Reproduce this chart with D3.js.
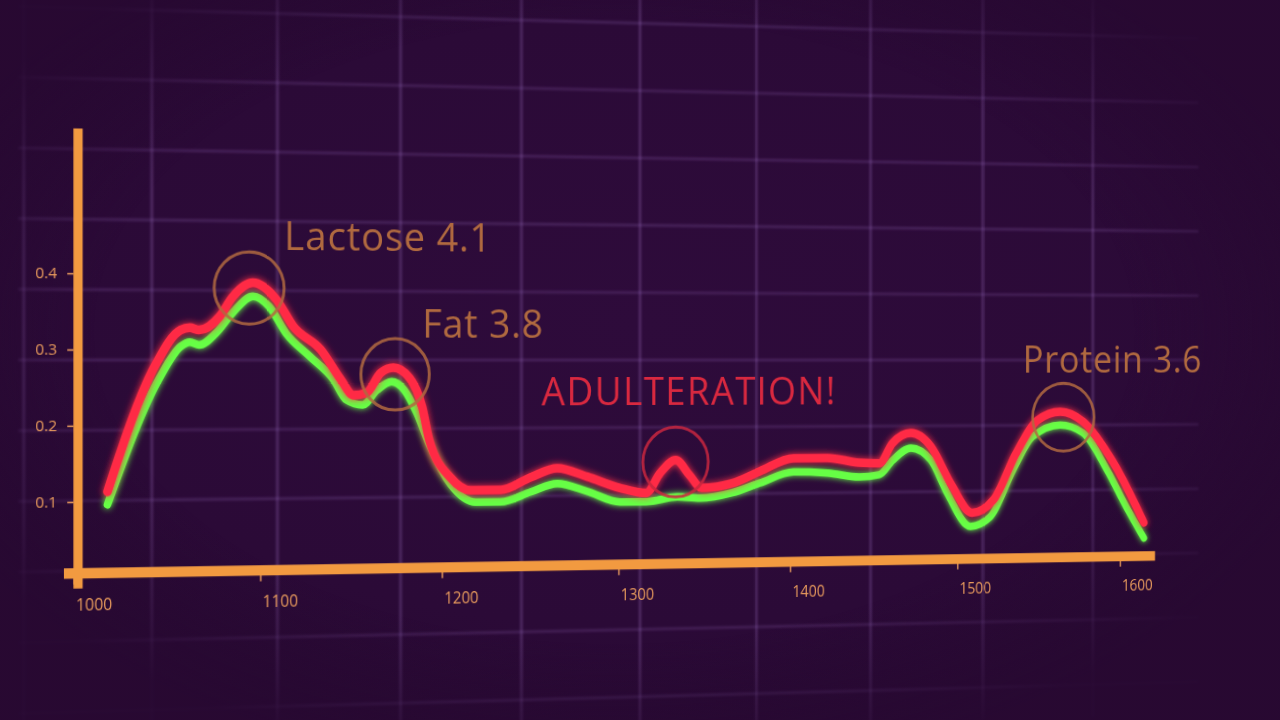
<!DOCTYPE html>
<html>
<head>
<meta charset="utf-8">
<title>Milk spectrum</title>
<script src="https://cdn.jsdelivr.net/npm/d3@7"></script>
<style>
  html, body { margin: 0; padding: 0; background: #2a0935; overflow: hidden; }
  #stage { position: relative; width: 1280px; height: 720px; overflow: hidden;
           background: radial-gradient(ellipse 75% 70% at 50% 45%, #2e0b3b 0%, #2b0a37 60%, #25082f 100%); }
  .layer { position: absolute; left: 0; top: 0; width: 1280px; height: 720px;
           transform-origin: 640px 361px; transform: perspective(4550px) rotateY(20deg); }
  .layer svg { overflow: visible; display: block; }
  #vignette { position: absolute; left: 0; top: 0; width: 1280px; height: 720px;
              background: radial-gradient(ellipse 58% 62% at 48% 46%, rgba(40,9,50,0) 70%, rgba(40,9,50,0.95) 100%); }
  text { font-family: "Open Sans", "Noto Sans", sans-serif; }
</style>
</head>
<body>
<div id="stage">
  <div class="layer" id="gridLayer"></div>
  <div id="vignette"></div>
  <div class="layer" id="chartLayer"></div>
</div>
<script>
// green trace (reference milk), [wavenumber, absorbance]
var referenceSpectrum = [
  [1018,0.096],[1046,0.264],[1057,0.304],[1062,0.310],[1067,0.306],[1076,0.322],
  [1085,0.349],[1096,0.371],[1105,0.357],[1114,0.322],[1127,0.291],[1140,0.260],
  [1147,0.233],[1156,0.226],[1164,0.246],[1172,0.257],[1179,0.246],[1186,0.215],
  [1193,0.172],[1205,0.118],[1219,0.094],[1233,0.094],[1250,0.107],[1265,0.118],
  [1282,0.107],[1301,0.092],[1316,0.092],[1334,0.098],[1347,0.096],[1366,0.103],
  [1382,0.116],[1402,0.131],[1422,0.129],[1441,0.123],[1453,0.126],[1461,0.146],
  [1472,0.163],[1484,0.146],[1494,0.099],[1508,0.052],[1520,0.065],[1534,0.131],
  [1546,0.178],[1563,0.194],[1577,0.183],[1592,0.130],[1604,0.077],[1615,0.032]
];

// red trace (tested sample)
var sampleSpectrum = [
  [1018,0.113],[1044,0.282],[1057,0.326],[1062,0.329],[1067,0.326],[1078,0.344],
  [1085,0.370],[1096,0.389],[1109,0.366],[1118,0.331],[1133,0.300],[1144,0.260],
  [1151,0.239],[1158,0.242],[1166,0.269],[1173,0.276],[1182,0.262],[1189,0.223],
  [1193,0.178],[1205,0.127],[1216,0.110],[1233,0.110],[1250,0.127],[1265,0.139],
  [1282,0.127],[1301,0.111],[1316,0.104],[1324,0.131],[1333,0.149],[1341,0.128],
  [1348,0.110],[1366,0.116],[1382,0.132],[1402,0.150],[1422,0.150],[1441,0.143],
  [1453,0.142],[1461,0.170],[1472,0.184],[1484,0.165],[1496,0.113],[1509,0.071],
  [1522,0.089],[1536,0.155],[1549,0.201],[1563,0.213],[1577,0.199],[1596,0.140],
  [1615,0.054]
];

var xTicks = [1000, 1100, 1200, 1300, 1400, 1500, 1600];
var yTicks = [0.1, 0.2, 0.3, 0.4];

var annotations = [
  { label: "Lactose 4.1",   x: 1094, y: 0.382, labelX: 1113, labelY: 0.433, alert: false },
  { label: "Fat 3.8",       x: 1174, y: 0.267, labelX: 1189, labelY: 0.317, alert: false },
  { label: "ADULTERATION!", x: 1333, y: 0.146, labelX: 1256, labelY: 0.225, alert: true },
  { label: "Protein 3.6",   x: 1565, y: 0.205, labelX: 1540, labelY: 0.268, alert: false }
];

var cosA = Math.cos(20 * Math.PI / 180);

var x = d3.scaleLinear().domain([1000, 1600]).range([640 - 542 / cosA, 640 + 499 / cosA]);
var y = d3.scaleLinear().domain([0, 0.6]).range([568.8, 131.2]);

var orange = '#f29a40';
var tickColor = '#e89a5c';
var noteColor = '#b0693f';

// ---- background grid ----
var gsvg = d3.select('#gridLayer').append('svg')
  .attr('width', 1280).attr('height', 720);

gsvg.append('defs').append('filter')
  .attr('id', 'soft').attr('x', '-5%').attr('y', '-5%').attr('width', '110%').attr('height', '110%')
  .append('feGaussianBlur').attr('stdDeviation', 1.2);

var grid = gsvg.append('g')
  .attr('filter', 'url(#soft)')
  .attr('stroke', 'rgba(175,125,215,0.3)')
  .attr('stroke-width', 2.4);

grid.selectAll('line.v')
  .data(d3.range(-5, 5))
  .enter().append('line')
    .attr('class', 'v')
    .attr('x1', function(d) { return 640 + d * 125; })
    .attr('x2', function(d) { return 640 + d * 125; })
    .attr('y1', -345)
    .attr('y2', 730);

grid.selectAll('line.h')
  .data(d3.range(-5, 6))
  .enter().append('line')
    .attr('class', 'h')
    .attr('x1', 10)
    .attr('x2', 1262)
    .attr('y1', function(d) { return 360 + d * 67.35; })
    .attr('y2', function(d) { return 360 + d * 67.35; })
    .attr('stroke-opacity', 0.7);

// ---- chart ----
var svg = d3.select('#chartLayer').append('svg')
  .attr('width', 1280).attr('height', 720);

var defs = svg.append('defs');
[['glowRed', 3.5], ['glowGreen', 3]].forEach(function(f) {
  var filter = defs.append('filter')
    .attr('id', f[0])
    .attr('x', '-10%').attr('y', '-20%').attr('width', '120%').attr('height', '140%');
  filter.append('feGaussianBlur').attr('in', 'SourceGraphic').attr('stdDeviation', f[1]).attr('result', 'b');
  var merge = filter.append('feMerge');
  merge.append('feMergeNode').attr('in', 'b');
  merge.append('feMergeNode').attr('in', 'SourceGraphic');
});

// y axis
var yAxis = svg.append('g')
  .attr('transform', 'translate(' + x(1000) + ',0)')
  .call(d3.axisLeft(y).tickValues(yTicks).tickSize(6).tickPadding(10).tickFormat(d3.format('.1f')));
yAxis.select('.domain').remove();
yAxis.selectAll('line').attr('stroke', tickColor).attr('stroke-width', 1.5);
yAxis.selectAll('text').attr('fill', tickColor).style('font-size', '15px');

// x axis
var xAxis = svg.append('g')
  .attr('transform', 'translate(0,' + y(0) + ')')
  .call(d3.axisBottom(x).tickValues(xTicks).tickSize(6).tickPadding(14).tickFormat(d3.format('d')));
xAxis.select('.domain').remove();
xAxis.selectAll('line').attr('stroke', tickColor).attr('stroke-width', 1.5);
xAxis.selectAll('text')
  .attr('fill', tickColor)
  .attr('text-anchor', 'start')
  .attr('dx', 2)
  .style('font-size', '15.5px');

// thick axis bars
svg.append('line')
  .attr('x1', x(1000) + 4.5).attr('x2', x(1000) + 4.5)
  .attr('y1', y(0.59)).attr('y2', y(0) + 10)
  .attr('stroke', orange).attr('stroke-width', 9);

svg.append('line')
  .attr('x1', x(995)).attr('x2', x(1622))
  .attr('y1', y(0) - 4.5).attr('y2', y(0) - 4.5)
  .attr('stroke', orange).attr('stroke-width', 10);

// spectra
var line = d3.line()
  .x(function(d) { return x(d[0]); })
  .y(function(d) { return y(d[1]); })
  .curve(d3.curveMonotoneX);

svg.append('path')
  .datum(referenceSpectrum)
  .attr('d', line)
  .attr('fill', 'none')
  .attr('stroke', '#66ff45')
  .attr('stroke-width', 7.5)
  .attr('stroke-linecap', 'round')
  .attr('filter', 'url(#glowGreen)');

svg.append('path')
  .datum(sampleSpectrum)
  .attr('d', line)
  .attr('fill', 'none')
  .attr('stroke', '#ff2a44')
  .attr('stroke-width', 8.5)
  .attr('stroke-linecap', 'round')
  .attr('filter', 'url(#glowRed)');

// annotations
var notes = svg.selectAll('g.note')
  .data(annotations)
  .enter().append('g')
    .attr('class', 'note');

notes.append('circle')
  .attr('cx', function(d) { return x(d.x); })
  .attr('cy', function(d) { return y(d.y); })
  .attr('r', 35)
  .attr('fill', 'none')
  .attr('stroke', function(d) { return d.alert ? '#c8263e' : noteColor; })
  .attr('stroke-opacity', 0.85)
  .attr('stroke-width', 3);

notes.append('text')
  .attr('x', function(d) { return x(d.labelX); })
  .attr('y', function(d) { return y(d.labelY); })
  .attr('fill', function(d) { return d.alert ? '#d9283f' : noteColor; })
  .style('font-size', '39px')
  .style('letter-spacing', function(d) { return d.alert ? '1.6px' : '0.8px'; })
  .text(function(d) { return d.label; });
</script>
</body>
</html>
